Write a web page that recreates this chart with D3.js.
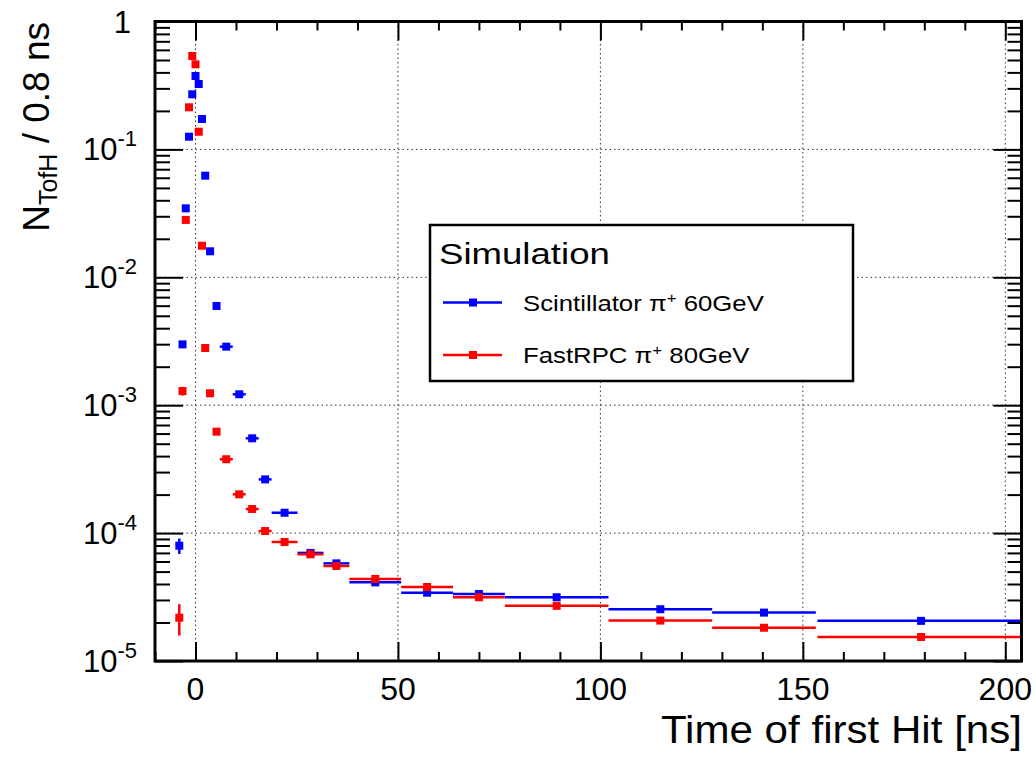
<!DOCTYPE html>
<head>
  <meta charset="utf-8">
  <script src="https://d3js.org/d3.v7.min.js"></script>
  <style>
    body { margin: 0; background: #fff; }
    svg { font-family: "Liberation Sans", Arial, sans-serif; }
  </style>
</head>

<body>
  <svg width="1036" height="765"></svg>

  <script>
    // bin centres and half widths [ns]
    const tCenter = [-4, -3.2, -2.4, -1.6, -0.8, 0, 0.8, 1.6, 2.4, 3.6, 5.2, 7.6, 10.8, 14, 17.2,
                     22, 28.4, 34.8, 44.4, 57.2, 70, 89.2, 114.8, 140.4, 179.2];
    const tHalf = [0.4, 0.4, 0.4, 0.4, 0.4, 0.4, 0.4, 0.4, 0.4, 0.8, 0.8, 1.6, 1.6, 1.6, 1.6,
                   3.2, 3.2, 3.2, 6.4, 6.4, 6.4, 12.8, 12.8, 12.8, 25.6];

    // Scintillator pi+ 60GeV
    const scintValues = [7.97e-5, 2.99e-3, 0.0346, 0.1257, 0.2697, 0.375, 0.3246, 0.1729, 0.0623,
                         0.01597, 5.97e-3, 2.87e-3, 1.217e-3, 5.51e-4, 2.63e-4, 1.443e-4, 7.0e-5,
                         5.8e-5, 4.12e-5, 3.42e-5, 3.34e-5, 3.15e-5, 2.54e-5, 2.39e-5, 2.06e-5];
    const scintErrors = [1.1e-5, 1.5e-4, 8e-4, 2e-3, 3e-3, 3.5e-3, 3.2e-3, 2e-3, 1e-3,
                         4e-4, 1.5e-4, 6e-5, 3e-5, 1.5e-5, 8e-6, 4e-6, 2e-6,
                         1.8e-6, 1e-6, 8e-7, 8e-7, 6e-7, 5e-7, 5e-7, 4e-7];

    // FastRPC pi+ 80GeV
    const rpcValues = [2.18e-5, 1.29e-3, 0.0281, 0.2134, 0.5374, 0.4628, 0.1375, 0.01766, 2.80e-3,
                       1.239e-3, 6.21e-4, 3.78e-4, 2.01e-4, 1.543e-4, 1.038e-4, 8.52e-5, 6.83e-5,
                       5.53e-5, 4.38e-5, 3.79e-5, 3.15e-5, 2.70e-5, 2.07e-5, 1.82e-5, 1.54e-5];
    const rpcErrors = [0.6e-5, 1e-4, 7e-4, 2.5e-3, 4e-3, 3.8e-3, 2e-3, 4e-4, 1e-4,
                       5e-5, 2.5e-5, 1.2e-5, 6e-6, 4e-6, 3e-6, 2e-6, 1.5e-6,
                       1.4e-6, 9e-7, 7e-7, 6e-7, 5e-7, 4e-7, 4e-7, 3e-7];

    const xTickValues = [0, 50, 100, 150, 200];
    const yExponents = [0, -1, -2, -3, -4, -5];
    const seriesNames = ['Scintillator', 'FastRPC'];
    const seriesEnergies = ['60GeV', '80GeV'];
    const seriesColors = ['#0000ff', '#ff0000'];

    const svg = d3.select('svg');
    const pLeft = 155, pRight = 1021.5, pTop = 21.5, pBottom = 661;

    const x = d3.scaleLinear().domain([-10, 204]).range([pLeft, pRight]);
    const y = d3.scaleLog().domain([1e-5, 1]).range([pBottom, pTop]);

    svg.append('clipPath').attr('id', 'frame')
      .append('rect')
      .attr('x', pLeft).attr('y', pTop)
      .attr('width', pRight - pLeft).attr('height', pBottom - pTop);

    /*****************************************************
    ** grid
    ******************************************************/
    const grid = svg.append('g')
      .attr('stroke', '#333')
      .attr('stroke-width', 1)
      .attr('stroke-dasharray', '1.5,3');
    grid.selectAll('.gx')
      .data(xTickValues).enter().append('line')
      .attr('x1', d => x(d)).attr('x2', d => x(d))
      .attr('y1', pTop).attr('y2', pBottom);
    grid.selectAll('.gy')
      .data(yExponents.slice(1, -1)).enter().append('line')
      .attr('y1', d => y(Math.pow(10, d))).attr('y2', d => y(Math.pow(10, d)))
      .attr('x1', pLeft).attr('x2', pRight);

    /*****************************************************
    ** data points
    ******************************************************/
    const plot = svg.append('g').attr('clip-path', 'url(#frame)');
    [[scintValues, scintErrors], [rpcValues, rpcErrors]].forEach(([vals, errs], s) => {
      const pts = tCenter.map((t, i) => ({ t, h: tHalf[i], v: vals[i], e: errs[i] }));
      const g = plot.append('g')
        .attr('stroke', seriesColors[s])
        .attr('fill', seriesColors[s]);
      g.selectAll('.hx')
        .data(pts).enter().append('line')
        .attr('x1', d => x(d.t - d.h)).attr('x2', d => x(d.t + d.h))
        .attr('y1', d => y(d.v)).attr('y2', d => y(d.v))
        .attr('stroke-width', 2.5);
      g.selectAll('.vy')
        .data(pts).enter().append('line')
        .attr('x1', d => x(d.t)).attr('x2', d => x(d.t))
        .attr('y1', d => y(d.v + d.e)).attr('y2', d => y(Math.max(d.v - d.e, 1e-6)))
        .attr('stroke-width', 2.5);
      g.selectAll('rect')
        .data(pts).enter().append('rect')
        .attr('x', d => x(d.t) - 4).attr('y', d => y(d.v) - 4)
        .attr('width', 8).attr('height', 8)
        .attr('stroke', 'none');
    });

    /*****************************************************
    ** axes
    ******************************************************/
    const xMinor = d3.range(-10, 205, 10).filter(d => d % 50 !== 0);
    const yMinor = [];
    yExponents.slice(1).forEach(e => {
      for (let k = 2; k <= 9; k++) yMinor.push(k * Math.pow(10, e));
    });
    const yMajor = yExponents.map(e => Math.pow(10, e));

    function styleAxis(g) {
      g.select('.domain').remove();
      g.selectAll('line').attr('stroke', '#000').attr('stroke-width', 2);
      g.selectAll('text').remove();
    }

    svg.append('g').attr('transform', `translate(0,${pBottom})`)
      .call(d3.axisBottom(x).tickValues(xTickValues).tickSize(-19)).call(styleAxis);
    svg.append('g').attr('transform', `translate(0,${pBottom})`)
      .call(d3.axisBottom(x).tickValues(xMinor).tickSize(-9)).call(styleAxis);
    svg.append('g').attr('transform', `translate(0,${pTop})`)
      .call(d3.axisTop(x).tickValues(xTickValues).tickSize(-19)).call(styleAxis);
    svg.append('g').attr('transform', `translate(0,${pTop})`)
      .call(d3.axisTop(x).tickValues(xMinor).tickSize(-9)).call(styleAxis);

    svg.append('g').attr('transform', `translate(${pLeft},0)`)
      .call(d3.axisLeft(y).tickValues(yMajor).tickSize(-28)).call(styleAxis);
    svg.append('g').attr('transform', `translate(${pLeft},0)`)
      .call(d3.axisLeft(y).tickValues(yMinor).tickSize(-15)).call(styleAxis);
    svg.append('g').attr('transform', `translate(${pRight},0)`)
      .call(d3.axisRight(y).tickValues(yMajor).tickSize(-28)).call(styleAxis);
    svg.append('g').attr('transform', `translate(${pRight},0)`)
      .call(d3.axisRight(y).tickValues(yMinor).tickSize(-14)).call(styleAxis);

    // frame
    svg.append('rect')
      .attr('x', pLeft).attr('y', pTop)
      .attr('width', pRight - pLeft).attr('height', pBottom - pTop)
      .attr('fill', 'none').attr('stroke', '#000').attr('stroke-width', 3);

    // tick labels
    svg.selectAll('.xl')
      .data(xTickValues).enter().append('text')
      .attr('x', d => x(d)).attr('y', 700)
      .attr('text-anchor', 'middle')
      .attr('font-size', 32)
      .text(d => d);

    const yl = svg.selectAll('.yl')
      .data(yExponents).enter().append('text')
      .attr('x', 137).attr('y', d => y(Math.pow(10, d)) + 11)
      .attr('text-anchor', 'end')
      .attr('font-size', 31);
    yl.filter(d => d === 0).attr('x', 131).text('1');
    yl.filter(d => d !== 0).each(function(d) {
      const t = d3.select(this);
      t.append('tspan').text('10');
      t.append('tspan').attr('dy', -14).attr('font-size', 22).text(d);
    });

    // axis titles
    svg.append('text')
      .attr('transform', 'translate(1022,743)scale(1.08,1)')
      .attr('text-anchor', 'end')
      .attr('font-size', 39)
      .text('Time of first Hit [ns]');

    const yt = svg.append('text')
      .attr('transform', 'translate(49,22)rotate(-90)')
      .attr('text-anchor', 'end')
      .attr('font-size', 37);
    yt.append('tspan').text('N');
    yt.append('tspan').attr('font-size', 25).attr('dy', 8).text('TofH');
    yt.append('tspan').attr('dy', -8).text(' / 0.8 ns');

    /*****************************************************
    ** legend
    ******************************************************/
    const legend = svg.append('g');
    legend.append('rect')
      .attr('x', 430).attr('y', 225)
      .attr('width', 423).attr('height', 156)
      .attr('fill', '#fff').attr('stroke', '#000').attr('stroke-width', 2.5);
    legend.append('text')
      .attr('transform', 'translate(439,264)scale(1.22,1)')
      .attr('font-size', 30)
      .text('Simulation');

    seriesNames.forEach((name, i) => {
      const ly = 302.5 + i * 52.5;
      legend.append('line')
        .attr('x1', 443).attr('x2', 502).attr('y1', ly).attr('y2', ly)
        .attr('stroke', seriesColors[i]).attr('stroke-width', 2.5);
      legend.append('rect')
        .attr('x', 469).attr('y', ly - 4).attr('width', 8).attr('height', 8)
        .attr('fill', seriesColors[i]);
      const txt = legend.append('text')
        .attr('transform', `translate(523,${ly + 8})scale(1.12,1)`)
        .attr('font-size', 23);
      txt.append('tspan').text(name + ' \u03c0');
      txt.append('tspan').attr('dy', -8).attr('font-size', 15).text('+');
      txt.append('tspan').attr('dy', 8).text(' ' + seriesEnergies[i]);
    });
  </script>
</body>
